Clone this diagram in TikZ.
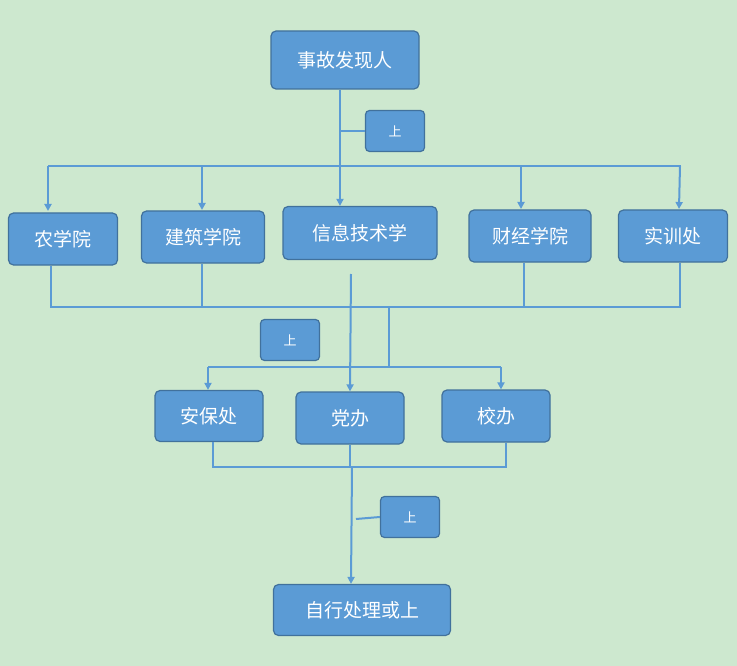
\documentclass[tikz,border=0pt]{standalone}
\usepackage{fontspec}
\setmainfont{Noto Sans CJK SC}
\usetikzlibrary{arrows.meta}
\definecolor{bg}{HTML}{CDE8CF}
\definecolor{bfill}{HTML}{5B9BD5}
\definecolor{bdraw}{HTML}{41719C}
\begin{document}
\begin{tikzpicture}[x=1pt,y=-1pt,
  box/.style={draw=bdraw,fill=bfill,line width=1.2pt,rounded corners=5pt,text=white,font=\fontsize{19}{22}\selectfont,inner sep=0pt},
  tag/.style={draw=bdraw,fill=bfill,line width=1.2pt,rounded corners=4pt,text=white,font=\fontsize{13}{15}\selectfont,minimum width=59pt,minimum height=41pt,inner sep=0pt},
  ln/.style={draw=bfill,line width=2pt},
  ar/.style={ln,-{Triangle[length=7pt,width=7pt]}}]
\fill[bg] (0,0) rectangle (737,666);
\useasboundingbox (0,0) rectangle (737,666);
\node[box,minimum width=148pt,minimum height=58pt] (top) at (345,60) {事故发现人};
\node[box,minimum width=109pt,minimum height=52pt] (a1) at (63,239) {农学院};
\node[box,minimum width=123pt,minimum height=52pt] (a2) at (203,237) {建筑学院};
\node[box,minimum width=154pt,minimum height=53pt] (a3) at (360,233) {信息技术学};
\node[box,minimum width=122pt,minimum height=52pt] (a4) at (530,236) {财经学院};
\node[box,minimum width=109pt,minimum height=52pt] (a5) at (673,236) {实训处};
\node[box,minimum width=108pt,minimum height=51pt] (b1) at (209,416) {安保处};
\node[box,minimum width=108pt,minimum height=52pt] (b2) at (350,418) {党办};
\node[box,minimum width=108pt,minimum height=52pt] (b3) at (496,416) {校办};
\node[box,minimum width=177pt,minimum height=51pt] (c) at (362,610) {自行处理或上};
\node[tag] (t1) at (395,131) {上};
\node[tag] (t2) at (290,340) {上};
\node[tag] (t3) at (410,517) {上};
\coordinate (h1) at (340,166);
\draw[ln] (top.south -| h1) -- (h1);
\draw[ln] (340,131) -- (t1.west);
\draw[ln] (48,166) -- (681,166);
\draw[ar] (48,166) -- (48,211);
\draw[ar] (202,166) -- (202,210);
\draw[ar] (h1) -- (a3.north -| h1);
\draw[ar] (521,166) -- (521,209);
\draw[ar] (680,166) -- (679,209);
\draw[ln] (a1.south -| 51,0) -- (51,307) -- (681,307);
\draw[ln] (a2.south -| 202,0) -- (202,307);
\draw[ln] (a4.south -| 524,0) -- (524,307);
\draw[ln] (a5.south -| 680,0) -- (680,307);
\draw[ar] (351,274) -- (b2.north -| 350,0);
\draw[ln] (389,307) -- (389,367);
\draw[ln] (208,367) -- (501,367);
\draw[ar] (208,367) -- (b1.north -| 208,0);
\draw[ar] (501,367) -- (b3.north -| 501,0);
\draw[ln] (b1.south -| 213,0) -- (213,467) -- (506,467) -- (b3.south -| 506,0);
\draw[ln] (b2.south) -- (350,467);
\draw[ar] (352,467) -- (c.north -| 351,0);
\draw[ln] (356,519) -- (t3.west);
\end{tikzpicture}
\end{document}
